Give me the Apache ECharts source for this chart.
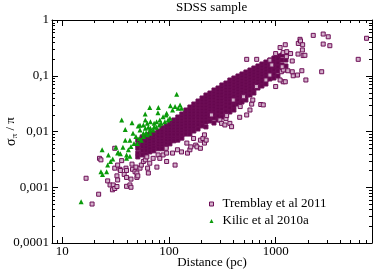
<!DOCTYPE html>
<html><head><meta charset="utf-8">
<script src="https://cdn.jsdelivr.net/npm/echarts@6/dist/echarts.min.js"></script>
<style>html,body{margin:0;padding:0;background:#fff}#c{width:374px;height:271px}</style>
</head><body><div id="c"></div>
<script>
const xTickValues = [10, 100, 1000];
const xTickLabels = ['10', '100', '1000'];
const yTickValues = [0.0001, 0.001, 0.01, 0.1, 1];
const yTickLabels = ['0,0001', '0,001', '0,01', '0,1', '1'];
const xMinorTicks = [9, 20, 30, 40, 50, 60, 70, 80, 90, 200, 300, 400, 500, 600, 700, 800, 900, 2000, 3000, 4000, 5000, 6000, 7000];
const yMinorTicks = [0.0002, 0.0003, 0.0004, 0.0005, 0.0006, 0.0007, 0.0008, 0.0009,
  0.002, 0.003, 0.004, 0.005, 0.006, 0.007, 0.008, 0.009,
  0.02, 0.03, 0.04, 0.05, 0.06, 0.07, 0.08, 0.09,
  0.2, 0.3, 0.4, 0.5, 0.6, 0.7, 0.8, 0.9];
const X_MIN = 8, X_MAX = 8000, Y_MIN = 0.0001, Y_MAX = 1;

const tremblayCore = [
 [51, [0.0070,0.0058,0.0050,0.0041,0.0035]],
 [56, [0.0080,0.0068,0.0060,0.0053,0.0045,0.0038]],
 [61, [0.0083,0.0073,0.0065,0.0057,0.0051,0.0045,0.0039]],
 [66, [0.0090,0.0080,0.0070,0.0062,0.0055,0.0049,0.0043]],
 [72, [0.0094,0.0083,0.0073,0.0065,0.0057,0.0051,0.0045]],
 [79, [0.0102,0.0090,0.0080,0.0070,0.0062,0.0055,0.0049]],
 [86, [0.0116,0.0102,0.0090,0.0080,0.0070,0.0062,0.0055,0.0049]],
 [94, [0.0126,0.0111,0.0098,0.0087,0.0076,0.0068,0.0060,0.0053]],
 [102, [0.0142,0.0126,0.0111,0.0098,0.0087,0.0076,0.0068,0.0060]],
 [111, [0.0161,0.0142,0.0126,0.0111,0.0098,0.0087,0.0076,0.0068]],
 [121, [0.0182,0.0161,0.0142,0.0126,0.0111,0.0098,0.0087,0.0076,0.0070]],
 [132, [0.0206,0.0182,0.0161,0.0142,0.0126,0.0111,0.0098,0.0087,0.0076]],
 [144, [0.0243,0.0215,0.0190,0.0168,0.0148,0.0131,0.0116,0.0102,0.0090]],
 [157, [0.0275,0.0243,0.0215,0.0190,0.0168,0.0148,0.0131,0.0116,0.0102,0.0090]],
 [171, [0.0311,0.0275,0.0243,0.0215,0.0190,0.0168,0.0148,0.0131,0.0116,0.0102]],
 [187, [0.0352,0.0311,0.0275,0.0243,0.0215,0.0190,0.0168,0.0148,0.0131,0.0111]],
 [204, [0.0399,0.0352,0.0311,0.0275,0.0243,0.0215,0.0190,0.0168,0.0148,0.0126]],
 [222, [0.0451,0.0399,0.0352,0.0311,0.0275,0.0243,0.0215,0.0190,0.0168,0.0148,0.0121]],
 [242, [0.0490,0.0433,0.0383,0.0338,0.0299,0.0264,0.0233,0.0206,0.0182,0.0154]],
 [264, [0.0555,0.0490,0.0433,0.0383,0.0338,0.0299,0.0264,0.0233,0.0206,0.0175,0.0142]],
 [288, [0.0603,0.0533,0.0470,0.0416,0.0367,0.0324,0.0287,0.0253,0.0224,0.0190,0.0161]],
 [313, [0.0683,0.0603,0.0533,0.0470,0.0416,0.0367,0.0324,0.0287,0.0253,0.0215,0.0182]],
 [342, [0.0741,0.0655,0.0578,0.0511,0.0451,0.0399,0.0352,0.0311,0.0275,0.0233,0.0198]],
 [372, [0.0839,0.0741,0.0655,0.0578,0.0511,0.0451,0.0399,0.0352,0.0311,0.0264,0.0224]],
 [406, [0.0911,0.0805,0.0711,0.0628,0.0555,0.0490,0.0433,0.0383,0.0338,0.0287,0.0243]],
 [443, [0.0990,0.0874,0.0773,0.0683,0.0603,0.0533,0.0470,0.0416,0.0367,0.0311]],
 [483, [0.1075,0.0950,0.0839,0.0741,0.0655,0.0578,0.0511,0.0451,0.0399,0.0338]],
 [526, [0.1168,0.1031,0.0911,0.0805,0.0711,0.0628,0.0555,0.0490,0.0433,0.0367]],
 [574, [0.1268,0.1120,0.0990,0.0874,0.0773,0.0683,0.0603,0.0533,0.0451]],
 [625, [0.1377,0.1217,0.1075,0.0950,0.0839,0.0741,0.0655,0.0578,0.0490]],
 [682, [0.1496,0.1322,0.1168,0.1031,0.0911,0.0805,0.0711,0.0603]],
 [743, [0.1624,0.1435,0.1268,0.1120,0.0990,0.0874,0.0773,0.0655]],
 [810, [0.1764,0.1559,0.1377,0.1217,0.1075,0.0950,0.0839,0.0711]],
 [883, [0.1916,0.1693,0.1496,0.1322,0.1168,0.1031,0.0874]],
 [963, [0.2081,0.1838,0.1624,0.1435,0.1268,0.1075,0.0911]],
 [1050, [0.2260,0.1997,0.1693,0.1435,0.1217,0.0990]],
 [1145, [0.2356,0.1916,0.1559,0.1268]],
 [1248, [0.2455,0.1916,0.1496]]
];

// Tremblay et al 2011: scattered individual points [distance, sigma/pi]
const tremblaySparse = [
 [16.7,0.00145],[19,0.0005],[21.9,0.00075],[22.3,0.0033],[23,0.0031],[26.6,0.0013],[28,0.0011],
 [29.5,0.0009],[30,0.0011],[31,0.00095],[32.5,0.00103],[31,0.005],[31,0.0022],[32.5,0.0016],
 [33,0.0025],[33,0.00135],[34.7,0.0021],[35,0.002],[36,0.003],[38,0.0017],[39.5,0.0022],
 [40,0.0015],[40,0.00104],[40,0.002],[43,0.0011],[44,0.001],[44,0.0014],[45,0.0026],
 [45.5,0.0021],[48,0.0019],[49,0.0023],[50,0.0015],[50,0.0018],[51,0.0016],[53.5,0.0022],
 [55,0.0025],[57.5,0.0029],[60,0.0031],[62,0.0035],[63,0.0022],[64,0.0018],[66,0.0027],
 [71,0.0033],[77,0.0023],[79,0.0038],[82,0.0033],[88,0.0038],[94,0.005],[95,0.0029],
 [95,0.0041],[108,0.0041],[114,0.0025],[120,0.0047],[131,0.0043],[147,0.0062],
 [149,0.0041],[157,0.0047],[160,0.0053],[170,0.0075],[178,0.0057],[183,0.0053],[197,0.0050],
 [197,0.0070],[208,0.0075],[215,0.0062],[215,0.0087],[223,0.0070],
 [250,0.0198],[300,0.0161],[311,0.014],[334,0.0131],[342,0.017],[347,0.0193],[372,0.014],
 [386,0.0122],[400,0.0367],[460,0.018],[465,0.028],[500,0.042],[535,0.0198],[574,0.0243],
 [596,0.031],[610,0.0367],[725,0.0305],[765,0.030],[660,0.064],[810,0.084],
 [1000,0.064],[1176,0.078],[1100,0.084],[1230,0.078],[1460,0.1],[1600,0.103],[1920,0.084],
 [1430,0.118],[1760,0.123],[2700,0.118],[883,0.103],[1130,0.118],[1230,0.127],[1300,0.123],
 [1180,0.127],[1150,0.145],[535,0.197],[664,0.197],[920,0.156],[883,0.19],[1000,0.25],
 [1100,0.32],[1230,0.36],[1176,0.26],[1260,0.22],[1270,0.27],[1380,0.25],[1430,0.184],
 [1620,0.245],[1810,0.23],[1880,0.233],[1630,0.38],[1690,0.45],[1710,0.42],[1780,0.29],
 [1790,0.36],[2250,0.53],[2790,0.56],[3110,0.50],[2790,0.37],[3220,0.346],[5940,0.197],[7110,0.47]
];

// Kilic et al 2010a
const kilic = [
 [15,0.00055],[23,0.0019],[23.8,0.0017],[26,0.0019],[23.6,0.0047],[26.6,0.0025],[27,0.0038],
 [28.3,0.0029],[29.7,0.0032],[31.8,0.0052],[33,0.0041],[33.5,0.0042],[35,0.0040],[36,0.016],
 [37,0.0052],[38.9,0.0070],[38.9,0.0109],[40,0.0033],[40,0.0038],[41.6,0.0047],[43,0.0036],
 [43,0.0070],[44,0.0054],[45,0.0144],[46,0.0093],[47,0.0061],[49,0.0081],[50.5,0.0061],
 [51.5,0.0126],[52.6,0.0075],[53.5,0.013],[53.5,0.0106],[55,0.0070],[57.5,0.0081],[57.5,0.0131],
 [57.5,0.0093],[59.8,0.0206],[60,0.0114],[60,0.0161],[61,0.0095],[62.5,0.0087],[62.5,0.0141],
 [64,0.0119],[66,0.027],[66.4,0.0093],[66.4,0.0106],[67,0.015],[67,0.0114],[71,0.0106],
 [72.5,0.0122],[72.5,0.0141],[76,0.0119],[76.5,0.015],[78.8,0.0217],[79.5,0.027],[81,0.0131],
 [82,0.0161],[84.5,0.0141],[88,0.0184],[91.5,0.015],[94,0.0198],[95,0.0212],[98,0.0161],
 [102,0.0173],[103,0.029],[108,0.0243],[114,0.028],[118,0.0465],[122,0.026],[127,0.030],[131,0.026]
];

const FONT = '"Liberation Serif", "DejaVu Serif", serif';
const PURPLE_DARK = '#66074f';
const PURPLE_EDGE = '#6e0f57';
const PURPLE_LIGHT = '#d2b0ca';
const GREEN = '#0a9a0a';
const tremblayData = tremblayCore.flatMap(([d, ss]) => ss.map(s => ({value: [d, s]})))
  .concat(tremblaySparse.map(p => ({value: p, itemStyle: {color: PURPLE_LIGHT}})));

function labelFor(values, labels, v) {
  const lv = Math.log10(v);
  for (let i = 0; i < values.length; i++) if (Math.abs(Math.log10(values[i]) - lv) < 1e-6) return labels[i];
  return '';
}
const px = v => Math.round(v) + 0.5;

const chart = echarts.init(document.getElementById('c'), null, {renderer: 'canvas'});
const axisCommon = {
  type: 'log', logBase: 10,
  axisLine: {show: true, lineStyle: {color: '#000', width: 1}},
  axisTick: {show: true, inside: true, length: 6, lineStyle: {color: '#000', width: 1}},
  splitLine: {show: false}, minorTick: {show: false}
};
chart.setOption({
  animation: false,
  backgroundColor: '#fff',
  title: {text: 'SDSS sample', left: 176, top: 1, padding: 0,
    textStyle: {fontFamily: FONT, fontSize: 13, fontWeight: 'normal', color: '#000'}},
  grid: {left: 52, right: 2, top: 20, bottom: 28, containLabel: false, outerBoundsMode: 'none'},
  legend: {
    data: [
      {name: 'Tremblay et al 2011', icon: 'rect', itemStyle: {color: PURPLE_LIGHT, borderColor: PURPLE_EDGE, borderWidth: 1}},
      {name: 'Kilic et al 2010a', icon: 'triangle', itemStyle: {color: GREEN}}
    ],
    orient: 'vertical', left: 209, top: 197, padding: 0, itemWidth: 4, itemHeight: 4, itemGap: 3,
    textStyle: {fontFamily: FONT, fontSize: 13, color: '#000', lineHeight: 14, padding: [0, 0, 0, 4]}
  },
  xAxis: [
    Object.assign({}, axisCommon, {
      min: X_MIN, max: X_MAX, position: 'bottom',
      axisLabel: {margin: 2, fontFamily: FONT, fontSize: 13, color: '#000',
        formatter: v => labelFor(xTickValues, xTickLabels, v)},
      name: 'Distance (pc)', nameLocation: 'middle', nameGap: 13, nameMoveOverlap: false,
      nameTextStyle: {fontFamily: FONT, fontSize: 13, color: '#000', verticalAlign: 'top'}
    }),
    Object.assign({}, axisCommon, {min: X_MIN, max: X_MAX, position: 'top', axisLabel: {show: false}})
  ],
  yAxis: [
    Object.assign({}, axisCommon, {
      min: Y_MIN, max: Y_MAX, position: 'left',
      axisLabel: {margin: 3, fontFamily: FONT, fontSize: 13, color: '#000',
        formatter: v => labelFor(yTickValues, yTickLabels, v)},
      name: '{s|σ}{sub|π}{n| / π}', nameLocation: 'middle', nameGap: 33, nameMoveOverlap: false,
      nameTextStyle: {fontFamily: FONT, color: '#000',
        rich: {
          s: {fontFamily: FONT, fontSize: 14, lineHeight: 16, color: '#000'},
          sub: {fontFamily: FONT, fontSize: 9, lineHeight: 9, verticalAlign: 'bottom', color: '#000'},
          n: {fontFamily: FONT, fontSize: 13, lineHeight: 16, color: '#000'}
        }}
    }),
    Object.assign({}, axisCommon, {min: Y_MIN, max: Y_MAX, position: 'right', axisLabel: {show: false}})
  ],
  series: [
    {
      name: 'Tremblay et al 2011', type: 'scatter', xAxisIndex: 0, yAxisIndex: 0,
      symbol: 'rect', symbolSize: 4, data: tremblayData,
      itemStyle: {color: PURPLE_DARK, borderColor: PURPLE_EDGE, borderWidth: 1, opacity: 1},
      z: 2
    },
    {
      name: 'Kilic et al 2010a', type: 'scatter', xAxisIndex: 0, yAxisIndex: 0,
      symbol: 'triangle', symbolSize: 5, data: kilic,
      itemStyle: {color: GREEN, opacity: 1},
      z: 3
    },
    {
      name: 'xMinor', type: 'custom', xAxisIndex: 0, yAxisIndex: 0, silent: true, z: 5,
      data: xMinorTicks.map(v => [v, Y_MIN]),
      renderItem: (params, api) => {
        const v = api.value(0);
        const b = api.coord([v, Y_MIN]), t = api.coord([v, Y_MAX]);
        const x = px(b[0]);
        return {type: 'group', children: [
          {type: 'line', shape: {x1: x, y1: b[1], x2: x, y2: b[1] - 3}, style: {stroke: '#000', lineWidth: 1}},
          {type: 'line', shape: {x1: x, y1: t[1], x2: x, y2: t[1] + 3}, style: {stroke: '#000', lineWidth: 1}}
        ]};
      }
    },
    {
      name: 'yMinor', type: 'custom', xAxisIndex: 0, yAxisIndex: 0, silent: true, z: 5,
      data: yMinorTicks.map(v => [X_MIN, v]),
      renderItem: (params, api) => {
        const v = api.value(1);
        const l = api.coord([X_MIN, v]), r = api.coord([X_MAX, v]);
        const y = px(l[1]);
        return {type: 'group', children: [
          {type: 'line', shape: {x1: l[0], y1: y, x2: l[0] + 3, y2: y}, style: {stroke: '#000', lineWidth: 1}},
          {type: 'line', shape: {x1: r[0], y1: y, x2: r[0] - 3, y2: y}, style: {stroke: '#000', lineWidth: 1}}
        ]};
      }
    }
  ]
});
</script></body></html>
